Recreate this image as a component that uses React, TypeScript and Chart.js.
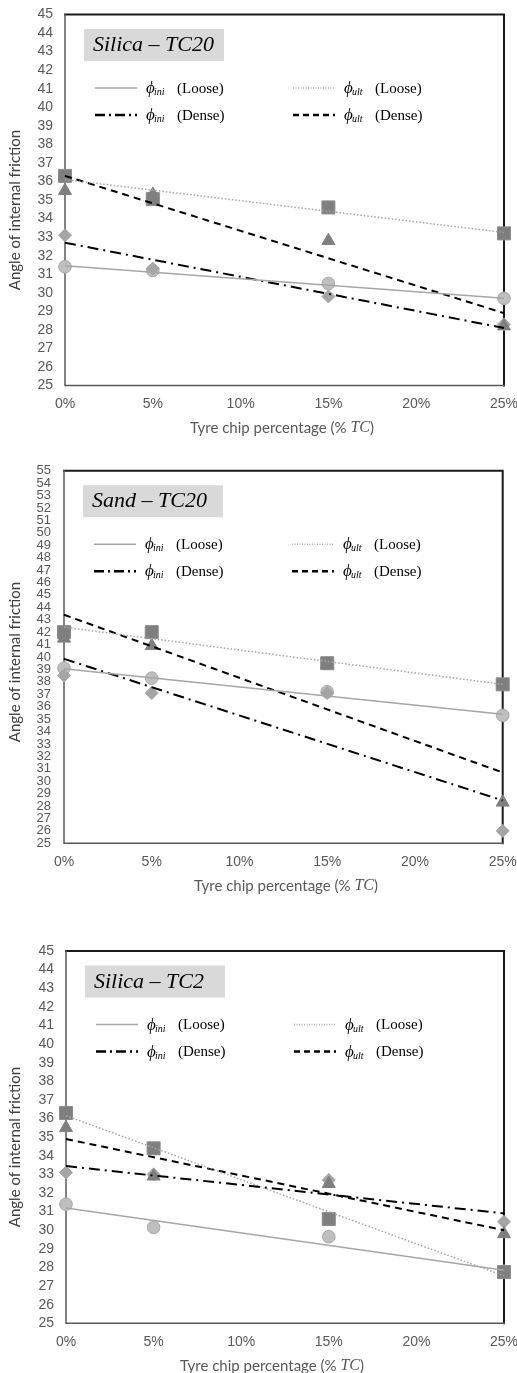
import React, { useEffect, useRef } from "react";
import { Chart, registerables } from "chart.js";

Chart.register(...registerables);

// ---------- data ----------
const tcPercent = [0, 5, 15, 25];
const trendEnds = [0, 25];
const xTickStep = 5;

// Silica – TC20
const s20IniLoose = [31.4, 31.2, 30.5, 29.7];
const s20IniDense = [33.1, 31.3, 29.8, 28.3];
const s20UltLoose = [36.3, 35.05, 34.6, 33.2];
const s20UltDense = [35.5, 35.3, 32.8, 28.2];
const s20TrendIniLoose = [31.45, 29.7];
const s20TrendIniDense = [32.7, 28.1];
const s20TrendUltLoose = [36.1, 33.25];
const s20TrendUltDense = [36.3, 28.9];

// Sand – TC20
const sd20IniLoose = [39.1, 38.3, 37.2, 35.3];
const sd20IniDense = [38.5, 37.1, 37.1, 26.0];
const sd20UltLoose = [42.0, 42.0, 39.5, 37.8];
const sd20UltDense = [41.5, 40.9, 39.4, 28.3];
const sd20TrendIniLoose = [39.05, 35.4];
const sd20TrendIniDense = [39.85, 28.45];
const sd20TrendUltLoose = [42.4, 37.8];
const sd20TrendUltDense = [43.4, 30.7];

// Silica – TC2
const s2IniLoose = [31.4, 30.15, 29.65, 27.8];
const s2IniDense = [33.1, 33.0, 32.7, 30.45];
const s2UltLoose = [36.3, 34.4, 30.6, 27.75];
const s2UltDense = [35.5, 32.9, 32.5, 29.8];
const s2TrendIniLoose = [31.2, 27.85];
const s2TrendIniDense = [33.45, 30.9];
const s2TrendUltLoose = [36.15, 27.55];
const s2TrendUltDense = [34.9, 30.0];

const legendLabels = ["(Loose)", "(Dense)"];
const xTitleText = "Tyre chip percentage (% ";
const yTitleText = "Angle of internal friction";

// ---------- layout ----------
const PAGE_W = 517;

type Area = { left: number; right: number; top: number; bottom: number };
type Panel = {
  label: string;
  canvasTop: number;
  canvasHeight: number;
  area: Area;
  yMin: number;
  yMax: number;
  yTickFont: number;
  yTickFamily: string;
  yTickPad: number;
  yTitleCenter: number;
  xTitleCenter: number;
  iniLoose: number[];
  iniDense: number[];
  ultLoose: number[];
  ultDense: number[];
  tIniLoose: number[];
  tIniDense: number[];
  tUltLoose: number[];
  tUltDense: number[];
};

const panels: Panel[] = [
  {
    label: "Silica – TC20",
    canvasTop: 0,
    canvasHeight: 440,
    area: { left: 65, right: 504, top: 14.5, bottom: 385.5 },
    yMin: 25,
    yMax: 45,
    yTickFont: 14,
    yTickFamily: '"Liberation Sans", Arial, sans-serif',
    yTickPad: 12,
    yTitleCenter: 210,
    xTitleCenter: 282,
    iniLoose: s20IniLoose,
    iniDense: s20IniDense,
    ultLoose: s20UltLoose,
    ultDense: s20UltDense,
    tIniLoose: s20TrendIniLoose,
    tIniDense: s20TrendIniDense,
    tUltLoose: s20TrendUltLoose,
    tUltDense: s20TrendUltDense,
  },
  {
    label: "Sand – TC20",
    canvasTop: 445,
    canvasHeight: 460,
    area: { left: 64, right: 502.7, top: 470.7, bottom: 843.3 },
    yMin: 25,
    yMax: 55,
    yTickFont: 13,
    yTickFamily: '"Liberation Sans Narrow", "Liberation Sans", Arial, sans-serif',
    yTickPad: 13,
    yTitleCenter: 662,
    xTitleCenter: 286,
    iniLoose: sd20IniLoose,
    iniDense: sd20IniDense,
    ultLoose: sd20UltLoose,
    ultDense: sd20UltDense,
    tIniLoose: sd20TrendIniLoose,
    tIniDense: sd20TrendIniDense,
    tUltLoose: sd20TrendUltLoose,
    tUltDense: sd20TrendUltDense,
  },
  {
    label: "Silica – TC2",
    canvasTop: 930,
    canvasHeight: 443,
    area: { left: 66, right: 504, top: 951, bottom: 1323.3 },
    yMin: 25,
    yMax: 45,
    yTickFont: 14,
    yTickFamily: '"Liberation Sans", Arial, sans-serif',
    yTickPad: 12,
    yTitleCenter: 1147,
    xTitleCenter: 272,
    iniLoose: s2IniLoose,
    iniDense: s2IniDense,
    ultLoose: s2UltLoose,
    ultDense: s2UltDense,
    tIniLoose: s2TrendIniLoose,
    tIniDense: s2TrendIniDense,
    tUltLoose: s2TrendUltLoose,
    tUltDense: s2TrendUltDense,
  },
];

const pts = (xs: number[], ys: number[]) => xs.map((x, i) => ({ x, y: ys[i] }));

const STY = {
  iniLoose: { color: "#a6a6a6", width: 1.5, dash: [] as number[] },
  ultLoose: { color: "#a6a6a6", width: 1.5, dash: [1.5, 2] },
  iniDense: { color: "#000000", width: 2, dash: [11, 5, 2, 5] },
  ultDense: { color: "#000000", width: 2, dash: [7, 5] },
};

const SERIF = '"Liberation Serif", "Times New Roman", serif';
const SANS_T = '15px Lato, "Liberation Sans", sans-serif';

function drawLegendEntry(
  ctx: CanvasRenderingContext2D,
  x0: number,
  y: number,
  color: string,
  legendDash: number[],
  legendWidth: number,
  sub: string,
  label: string
) {
  ctx.save();
  ctx.strokeStyle = color;
  ctx.lineWidth = legendWidth;
  ctx.setLineDash(legendDash);
  ctx.beginPath();
  ctx.moveTo(x0, y);
  ctx.lineTo(x0 + 42, y);
  ctx.stroke();
  ctx.setLineDash([]);
  ctx.fillStyle = "#000000";
  ctx.textBaseline = "alphabetic";
  ctx.textAlign = "left";
  ctx.font = `italic 17px ${SERIF}`;
  ctx.fillText("ϕ", x0 + 51, y + 5);
  ctx.font = `italic 10px ${SERIF}`;
  ctx.fillText(sub, x0 + 59, y + 7);
  ctx.font = `15px ${SERIF}`;
  ctx.fillText(label, x0 + 82, y + 4.5);
  ctx.restore();
}

function makeDecor(p: Panel) {
  return {
    id: "decor",
    beforeDatasetsDraw(chart: any) {
      const { ctx, chartArea: a } = chart;
      ctx.save();
      ctx.lineCap = "square";
      ctx.strokeStyle = "#1a1a1a";
      ctx.lineWidth = 2;
      ctx.beginPath();
      ctx.moveTo(a.left, a.top);
      ctx.lineTo(a.right, a.top);
      ctx.lineTo(a.right, a.bottom);
      ctx.stroke();
      ctx.strokeStyle = "#595959";
      ctx.lineWidth = 1.5;
      ctx.beginPath();
      ctx.moveTo(a.left, a.top);
      ctx.lineTo(a.left, a.bottom);
      ctx.lineTo(a.right, a.bottom);
      ctx.stroke();
      ctx.restore();
    },
    afterDraw(chart: any) {
      const { ctx, chartArea: a } = chart;
      ctx.save();
      // label box
      ctx.fillStyle = "#d9d9d9";
      ctx.fillRect(a.left + 19, a.top + 14.5, 140, 32);
      ctx.fillStyle = "#000000";
      ctx.font = `italic 22px ${SERIF}`;
      ctx.textBaseline = "middle";
      ctx.textAlign = "left";
      ctx.fillText(p.label, a.left + 28, a.top + 31);
      // legend
      const r1 = a.top + 73.5;
      const r2 = a.top + 100.5;
      const c1 = a.left + 30;
      const c2 = a.left + 228;
      drawLegendEntry(ctx, c1, r1, STY.iniLoose.color, [], 1.5, "ini", legendLabels[0]);
      drawLegendEntry(ctx, c2, r1, "#b0b0b0", [1, 1.5], 1.5, "ult", legendLabels[0]);
      drawLegendEntry(ctx, c1, r2, STY.iniDense.color, [10, 4, 2, 4], 2.5, "ini", legendLabels[1]);
      drawLegendEntry(ctx, c2, r2, STY.ultDense.color, [6, 4], 2.5, "ult", legendLabels[1]);
      // y title
      ctx.save();
      ctx.translate(15, p.yTitleCenter - p.canvasTop);
      ctx.rotate(-Math.PI / 2);
      ctx.fillStyle = "#404040";
      ctx.font = SANS_T;
      ctx.textAlign = "center";
      ctx.textBaseline = "middle";
      ctx.fillText(yTitleText, 0, 0);
      ctx.restore();
      // x title
      const xt = a.bottom + 42.5;
      ctx.font = SANS_T;
      const w1 = ctx.measureText(xTitleText).width;
      ctx.font = `italic 16px ${SERIF}`;
      const w2 = ctx.measureText("TC").width;
      ctx.font = SANS_T;
      const w3 = ctx.measureText(")").width;
      let x = p.xTitleCenter - (w1 + w2 + w3) / 2;
      ctx.fillStyle = "#595959";
      ctx.textBaseline = "middle";
      ctx.textAlign = "left";
      ctx.fillText(xTitleText, x, xt);
      x += w1;
      ctx.font = `italic 16px ${SERIF}`;
      ctx.fillText("TC", x, xt);
      x += w2;
      ctx.font = SANS_T;
      ctx.fillText(")", x, xt);
      ctx.restore();
    },
  };
}

function lineDs(xs: number[], ys: number[], sty: { color: string; width: number; dash: number[] }) {
  return {
    data: pts(xs, ys),
    showLine: true,
    borderColor: sty.color,
    borderWidth: sty.width,
    borderDash: sty.dash,
    pointRadius: 0,
    fill: false,
    order: 0,
    clip: false,
  };
}

function PanelChart({ p }: { p: Panel }) {
  const ref = useRef<HTMLCanvasElement | null>(null);
  useEffect(() => {
    if (!ref.current) return;
    const a = p.area;
    const chart = new Chart(ref.current, {
      type: "scatter",
      data: {
        datasets: [
          lineDs(trendEnds, p.tIniLoose, STY.iniLoose),
          lineDs(trendEnds, p.tIniDense, STY.iniDense),
          lineDs(trendEnds, p.tUltLoose, STY.ultLoose),
          lineDs(trendEnds, p.tUltDense, STY.ultDense),
          {
            data: pts(tcPercent, p.ultDense),
            pointStyle: "triangle",
            pointRadius: 7.5,
            backgroundColor: "#7f7f7f",
            borderColor: "#7f7f7f",
            borderWidth: 1,
            order: 1,
            clip: false,
          },
          {
            data: pts(tcPercent, p.ultLoose),
            pointStyle: "rect",
            pointRadius: 9.2,
            backgroundColor: "#7f7f7f",
            borderColor: "#8c8c8c",
            borderWidth: 1,
            order: 2,
            clip: false,
          },
          {
            data: pts(tcPercent, p.iniDense),
            pointStyle: "rectRot",
            pointRadius: 6.5,
            backgroundColor: "#a5a5a5",
            borderColor: "#a5a5a5",
            borderWidth: 1,
            order: 3,
            clip: false,
          },
          {
            data: pts(tcPercent, p.iniLoose),
            pointStyle: "circle",
            pointRadius: 6.3,
            backgroundColor: "#bfbfbf",
            borderColor: "#a6a6a6",
            borderWidth: 1,
            order: 4,
            clip: false,
          },
        ] as any,
      },
      options: {
        animation: false,
        responsive: false,
        maintainAspectRatio: false,
        events: [],
        layout: {
          padding: { top: a.top - p.canvasTop, right: PAGE_W - a.right, left: 0, bottom: 0 },
        },
        plugins: { legend: { display: false }, tooltip: { enabled: false } },
        scales: {
          x: {
            type: "linear",
            min: 0,
            max: 25,
            grid: { display: false, drawTicks: false },
            border: { display: false },
            ticks: {
              stepSize: xTickStep,
              maxRotation: 0,
              autoSkip: false,
              padding: 10,
              color: "#595959",
              font: { family: '"Liberation Sans", Arial, sans-serif', size: 14 },
              callback: (v: any) => `${v}%`,
            },
            afterFit: (s: any) => {
              s.height = p.canvasTop + p.canvasHeight - a.bottom;
              s.paddingLeft = 0;
              s.paddingRight = 0;
            },
          },
          y: {
            type: "linear",
            min: p.yMin,
            max: p.yMax,
            grid: { display: false, drawTicks: false },
            border: { display: false },
            ticks: {
              stepSize: 1,
              autoSkip: false,
              padding: p.yTickPad,
              color: "#595959",
              font: { family: p.yTickFamily, size: p.yTickFont },
            },
            afterFit: (s: any) => {
              s.width = a.left;
              s.paddingTop = 0;
              s.paddingBottom = 0;
            },
          },
        },
      } as any,
      plugins: [makeDecor(p)],
    });
    return () => chart.destroy();
  }, [p]);
  return (
    <canvas
      ref={ref}
      width={PAGE_W}
      height={p.canvasHeight}
      style={{
        position: "absolute",
        left: 0,
        top: p.canvasTop,
        width: PAGE_W,
        height: p.canvasHeight,
      }}
    />
  );
}

export default function App() {
  return (
    <div
      style={{
        position: "absolute",
        left: 0,
        top: 0,
        width: PAGE_W,
        height: 1373,
        overflow: "hidden",
        background: "#ffffff",
      }}
    >
      {panels.map((p) => (
        <PanelChart key={p.label} p={p} />
      ))}
    </div>
  );
}
